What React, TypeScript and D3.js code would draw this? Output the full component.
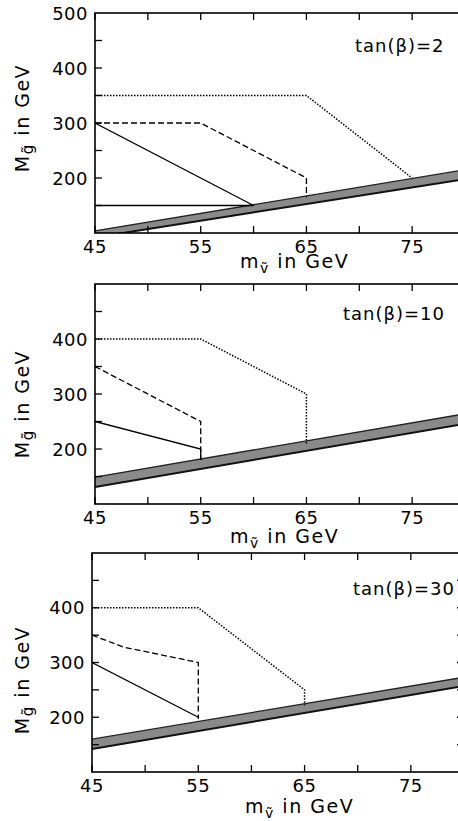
import React from 'react';
import * as d3 from 'd3';

// ---------- data ----------
const xTickValues = [45, 50, 55, 60, 65, 70, 75, 80];
const xTickLabels = [45, 55, 65, 75];
const yTickValues = [150, 200, 250, 300, 350, 400, 450];
const yLabelsTop = [200, 300, 400, 500];
const yLabelsOther = [200, 300, 400];
const tanBetaLabels = ['tan(β)=2', 'tan(β)=10', 'tan(β)=30'];

// panel 1: tan(beta)=2
const p1Dotted: [number, number][] = [[45, 350], [65, 350], [75, 200]];
const p1Dashed: [number, number][] = [[45, 300], [55, 300], [65, 200], [65, 165]];
const p1Solid: [number, number][] = [[45, 300], [60, 150]];
const p1Solid2: [number, number][] = [[45, 150], [60, 150]];
const p1BandLow: [number, number][] = [[45, 92], [80, 198]];
const p1BandHigh: [number, number][] = [[45, 104], [80, 215]];

// panel 2: tan(beta)=10
const p2Dotted: [number, number][] = [[45, 400], [55, 400], [65, 300], [65, 210]];
const p2Dashed: [number, number][] = [[45, 350], [55, 250], [55, 180]];
const p2Solid: [number, number][] = [[45, 250], [55, 200], [55, 180]];
const p2BandLow: [number, number][] = [[45, 131], [80, 246]];
const p2BandHigh: [number, number][] = [[45, 149], [80, 264]];

// panel 3: tan(beta)=30
const p3Dotted: [number, number][] = [[45, 400], [55, 400], [65, 250], [65, 222]];
const p3Dashed: [number, number][] = [[45, 350], [48, 328], [55, 300], [55, 197]];
const p3Solid: [number, number][] = [[45, 300], [55, 200]];
const p3BandLow: [number, number][] = [[45, 142], [80, 257]];
const p3BandHigh: [number, number][] = [[45, 160], [80, 273]];

const panelsData = [
  { dotted: [p1Dotted], dashed: [p1Dashed], solid: [p1Solid, p1Solid2], low: p1BandLow, high: p1BandHigh, yLabels: yLabelsTop },
  { dotted: [p2Dotted], dashed: [p2Dashed], solid: [p2Solid], low: p2BandLow, high: p2BandHigh, yLabels: yLabelsOther },
  { dotted: [p3Dotted], dashed: [p3Dashed], solid: [p3Solid], low: p3BandLow, high: p3BandHigh, yLabels: yLabelsOther },
];

// ---------- layout ----------
const layouts = [
  { left: 95, right: 465, top: 13, bottom: 233, tanX: 355, tanY: 52, xlX: 240, xlY: 268, ylY: 118 },
  { left: 95, right: 465, top: 284, bottom: 504, tanX: 343, tanY: 320, xlX: 230, xlY: 543, ylY: 404 },
  { left: 92, right: 464, top: 553, bottom: 772, tanX: 353, tanY: 595, xlX: 245, xlY: 813, ylY: 680 },
];

const FONT = '"DejaVu Sans", sans-serif';

function Panel({ i }: { i: number }) {
  const L = layouts[i];
  const D = panelsData[i];
  const x = d3.scaleLinear().domain([45, 80]).range([L.left, L.right]);
  const y = d3.scaleLinear().domain([100, 500]).range([L.bottom, L.top]);
  const line = d3.line<[number, number]>().x(d => x(d[0])).y(d => y(d[1]));
  const bandData = D.low.map((p, k) => ({ m: p[0], lo: p[1], hi: D.high[k][1] }));
  const area = d3.area<{ m: number; lo: number; hi: number }>()
    .x(d => x(d.m)).y0(d => y(d.lo)).y1(d => y(d.hi));
  const clipId = `clip${i}`;
  const tl = 7;
  return (
    <g>
      <defs>
        <clipPath id={clipId}>
          <rect x={L.left} y={L.top} width={L.right - L.left} height={L.bottom - L.top} />
        </clipPath>
      </defs>
      <g clipPath={`url(#${clipId})`}>
        <path d={area(bandData) || ''} fill="#8a8a8a" />
        <path d={line(D.low) || ''} fill="none" stroke="#111" strokeWidth={2} />
        <path d={line(D.high) || ''} fill="none" stroke="#222" strokeWidth={1.3} />
        {D.solid.map((s, k) => (
          <path key={'s' + k} d={line(s) || ''} fill="none" stroke="#000" strokeWidth={1.3} />
        ))}
        {D.dashed.map((s, k) => (
          <path key={'d' + k} d={line(s) || ''} fill="none" stroke="#000" strokeWidth={1.3} strokeDasharray="6,3" />
        ))}
        {D.dotted.map((s, k) => (
          <path key={'o' + k} d={line(s) || ''} fill="none" stroke="#000" strokeWidth={1.5} strokeDasharray="1.5,1.5" />
        ))}
      </g>
      <rect x={L.left} y={L.top} width={L.right - L.left} height={L.bottom - L.top} fill="none" stroke="#000" strokeWidth={1.6} />
      {xTickValues.map(v => (
        <g key={'xt' + v}>
          <line x1={x(v)} x2={x(v)} y1={L.bottom} y2={L.bottom - tl} stroke="#000" strokeWidth={1.3} />
          <line x1={x(v)} x2={x(v)} y1={L.top} y2={L.top + tl} stroke="#000" strokeWidth={1.3} />
        </g>
      ))}
      {yTickValues.map(v => (
        <g key={'yt' + v}>
          <line x1={L.left} x2={L.left + tl} y1={y(v)} y2={y(v)} stroke="#000" strokeWidth={1.3} />
          <line x1={L.right} x2={L.right - tl} y1={y(v)} y2={y(v)} stroke="#000" strokeWidth={1.3} />
        </g>
      ))}
      {xTickLabels.map(v => (
        <text key={'xl' + v} x={x(v)} y={L.bottom + 20} textAnchor="middle" fontFamily={FONT} fontSize={18} letterSpacing={0.5}>{v}</text>
      ))}
      {D.yLabels.map(v => (
        <text key={'yl' + v} x={L.left - 7} y={y(v)} textAnchor="end" dominantBaseline="central" fontFamily={FONT} fontSize={18} letterSpacing={0.5}>{v}</text>
      ))}
      <text x={L.tanX} y={L.tanY} fontFamily={FONT} fontSize={18} letterSpacing={1}>{tanBetaLabels[i]}</text>
      <text x={L.xlX} y={L.xlY} fontFamily={FONT} fontSize={19} letterSpacing={1.5}>
        m<tspan fontSize={14} dy={5}>ṽ</tspan><tspan dy={-5}>{' in GeV'}</tspan>
      </text>
      <text transform={`translate(29,${L.ylY}) rotate(-90)`} textAnchor="middle" fontFamily={FONT} fontSize={19} letterSpacing={1.5}>
        M<tspan fontSize={15} dy={4}>g̃</tspan><tspan dy={-4}>{i === 0 ? ' in  GeV' : ' in GeV'}</tspan>
      </text>
    </g>
  );
}

export default function App() {
  return (
    <svg width={458} height={821} style={{ position: 'absolute', left: 0, top: 0, background: '#fff' }}>
      <rect x={0} y={0} width={458} height={821} fill="#fff" />
      {[0, 1, 2].map(i => <Panel key={i} i={i} />)}
    </svg>
  );
}
